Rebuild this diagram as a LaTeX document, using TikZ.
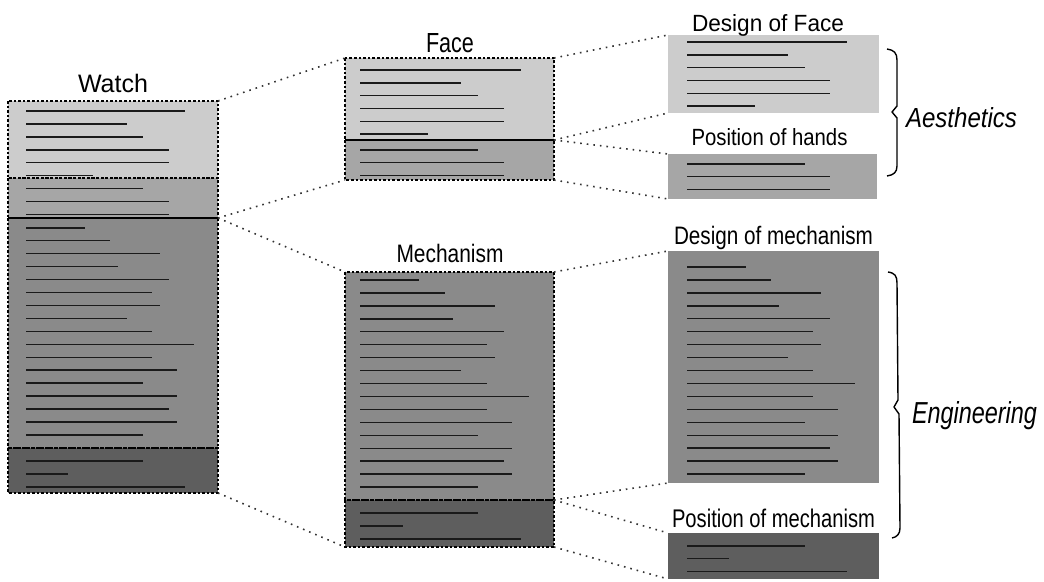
\documentclass[tikz,border=0pt]{standalone}
\usepackage{fontspec}
\setmainfont{Liberation Sans}
\usepackage{graphicx}
\definecolor{cA}{HTML}{CCCCCC}
\definecolor{cB}{HTML}{A6A6A6}
\definecolor{cC}{HTML}{8A8A8A}
\definecolor{cD}{HTML}{5E5E5E}
\definecolor{txtc}{HTML}{1A1A1A}
\newcommand{\lab}[3]{\resizebox{#1pt}{#2pt}{\fontsize{24}{28}\selectfont #3}}
\newcommand{\txtlines}[4]{%
  \foreach \len [count=\i from 0] in {#4}
    \draw[txtline] (#1,{#2+\i*#3}) -- ++(\len,0);}
\tikzset{
  sec/.style={rectangle, inner sep=0pt, outer sep=0pt, anchor=north west, draw=none},
  txtline/.style={draw=txtc, line width=1.4pt},
  border/.style={draw=black, line width=1.6pt, dash pattern=on 2.6pt off 2pt},
  conn/.style={draw=black!80, line width=1.6pt, dash pattern=on 1.6pt off 5pt},
  lbl/.style={inner sep=0pt, outer sep=0pt, anchor=base},
  bracestroke/.style={draw=black, line width=1.4pt, line join=round}
}
\begin{document}
\begin{tikzpicture}[x=1pt,y=-1pt]
\useasboundingbox (0,0) rectangle (1044,581);
% ---- Watch
\node[sec, fill=cA, minimum width=210pt, minimum height=77pt] (w1) at (8,101) {};
\node[sec, fill=cB, minimum width=210pt, minimum height=40pt] (w2) at (8,178) {};
\node[sec, fill=cC, minimum width=210pt, minimum height=230pt] (w3) at (8,218) {};
\node[sec, fill=cD, minimum width=210pt, minimum height=45pt] (w4) at (8,448) {};
% ---- Face / Mechanism
\node[sec, fill=cA, minimum width=209pt, minimum height=82pt] (f1) at (345,58) {};
\node[sec, fill=cB, minimum width=209pt, minimum height=40pt] (f2) at (345,140) {};
\node[sec, fill=cC, minimum width=209pt, minimum height=228pt] (m1) at (345,272) {};
\node[sec, fill=cD, minimum width=209pt, minimum height=47pt] (m2) at (345,500) {};
% ---- right column
\node[sec, fill=cA, minimum width=211pt, minimum height=78pt] (df) at (668,35) {};
\node[sec, fill=cB, minimum width=209pt, minimum height=45pt] (ph) at (668,154) {};
\node[sec, fill=cC, minimum width=211pt, minimum height=232pt] (dm) at (668,251) {};
\node[sec, fill=cD, minimum width=211pt, minimum height=46pt] (pm) at (668,533) {};
% ---- text lines
\txtlines{26}{111}{12.94}{159,101,117,143,143,67}
\txtlines{26}{188.6}{12.94}{117,143,143}
\txtlines{26}{227.8}{12.94}{59,84,134,92,143,126,134,101,126,168,126,151,117,151,143,151,117}
\txtlines{26}{461}{13}{117,42,159}
\txtlines{360}{70}{12.8}{161,101,118,144,144,68}
\txtlines{360}{150}{12.7}{118,144,144}
\txtlines{360}{280}{12.94}{59,85,135,93,144,127,135,101,127,169,127,152,118,152,144,152,118}
\txtlines{360}{513}{13}{118,43,161}
\txtlines{687}{42}{12.8}{160,101,118,143,143,68}
\txtlines{687}{164}{12.6}{118,143,143}
\txtlines{687}{267}{12.94}{59,84,134,92,143,126,134,101,126,168,126,151,118,151,143,151,118}
\txtlines{687}{546}{12.6}{118,42,160}
% ---- dashed borders
\foreach \n in {w1,w2,w3,w4,f1,f2,m1,m2}
  \draw[border] (\n.north west) rectangle (\n.south east);
% ---- connectors
\draw[conn] (w1.north east) -- (f1.north west);
\draw[conn] (w3.north east) -- (f2.south west);
\draw[conn] (w3.north east) -- (m1.north west);
\draw[conn] (w4.south east) -- (m2.south west);
\draw[conn] (f1.north east) -- (df.north west);
\draw[conn] (f2.north east) -- (df.south west);
\draw[conn] (f2.north east) -- (ph.north west);
\draw[conn] (f2.south east) -- (ph.south west);
\draw[conn] (m1.north east) -- (dm.north west);
\draw[conn] (m2.north east) -- (dm.south west);
\draw[conn] (m2.north east) -- (pm.north west);
\draw[conn] (m2.south east) -- (pm.south west);
% ---- labels
\node[lbl] (lw) at (113,92) {\lab{70}{18.3}{Watch}};
\node[lbl] (lf) at (450,52) {\lab{48}{19}{Face}};
\node[lbl] (lm) at (450,262) {\lab{107}{18.3}{Mechanism}};
\node[lbl] (ldf) at (768,31) {\lab{152}{17}{Design of Face}};
\node[lbl] (lph) at (769.5,145) {\lab{156}{17}{Position of hands}};
\node[lbl] (ldm) at (773.5,244) {\lab{199}{18.3}{Design of mechanism}};
\node[lbl] (lpm) at (773.5,527) {\lab{203}{18.5}{Position of mechanism}};
\node[lbl, anchor=base west] (lae) at (906,127) {\lab{111}{20}{\itshape Aesthetics}};
\node[lbl, anchor=base west] (len) at (912,423) {\lab{125}{22}{\itshape Engineering}};
% ---- braces
\draw[bracestroke] (887,49) .. controls (894,50) and (897,53) .. (897,60)
  -- (897,106) -- (892,112) -- (897,118) -- (897,166)
  .. controls (897,172) and (894,175) .. (887,176);
\draw[bracestroke] (888,272) .. controls (895,273) and (897,276) .. (897,283)
  -- (898,400) -- (894,407) -- (899,414) -- (900,528)
  .. controls (900,534) and (897,537) .. (892,538);
\end{tikzpicture}
\end{document}
